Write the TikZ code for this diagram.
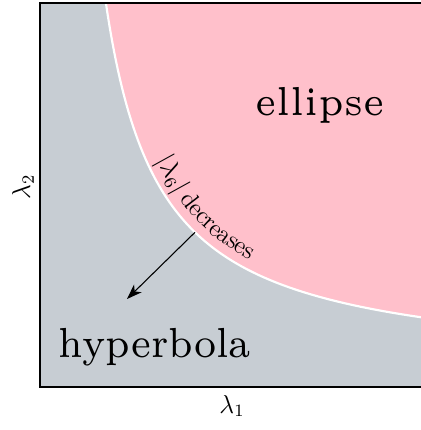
\documentclass[tikz,border=0pt]{standalone}
\usetikzlibrary{decorations.text,arrows.meta}
\definecolor{hypgray}{RGB}{199,205,211}
\definecolor{ellpink}{RGB}{255,192,203}
\tikzset{
  boxline/.style={draw=black,line width=0.6pt},
  curveline/.style={draw=white,line width=1pt},
  arrowline/.style={draw=black,line width=0.5pt,-{Stealth[length=7pt,width=5pt,inset=2pt]}},
  axislabel/.style={font=\fontsize{12}{14}\selectfont},
}
\begin{document}
\begin{tikzpicture}[x=4.63pt,y=4.63pt]
\clip (-4,-4.3) rectangle (38.1,38.7);
\fill[hypgray] (0,0) rectangle (38.4,38.4);
\fill[ellpink] plot[domain=6.59:38.4,samples=160] (\x,{1.6+198.35/(\x-1.2)}) -- (38.4,38.4) -- cycle;
\draw[curveline] plot[domain=6.59:38.4,samples=160] (\x,{1.6+198.35/(\x-1.2)});
\draw[boxline] (0,0) rectangle (38.4,38.4);
\path[decorate,decoration={text along path,text format delimiters={[}{]},
  text={[\fontsize{11.5}{13}\selectfont]{$|\lambda_6|$} decreases},raise=4.5pt,text align=left}]
  plot[domain=10.8:26,samples=80] (\x,{1.6+198.35/(\x-1.2)});
\coordinate (s) at (15.5,15.47);
\coordinate (t) at (8.7,8.8);
\draw[arrowline] (s) -- (t);
\node[anchor=base] (ell) at (28.0,27.2) {\resizebox{60pt}{13pt}{\fontsize{5}{6}\selectfont ellipse}};
\node[anchor=base] (hyp) at (11.5,3.0) {\resizebox{89pt}{13.5pt}{\fontsize{7}{8}\selectfont hyperbola}};
\node[anchor=base,axislabel] (l1) at (19.2,-2.6) {$\lambda_1$};
\node[rotate=90,axislabel] (l2) at (-1.7,20.05) {$\lambda_2$};
\end{tikzpicture}
\end{document}
